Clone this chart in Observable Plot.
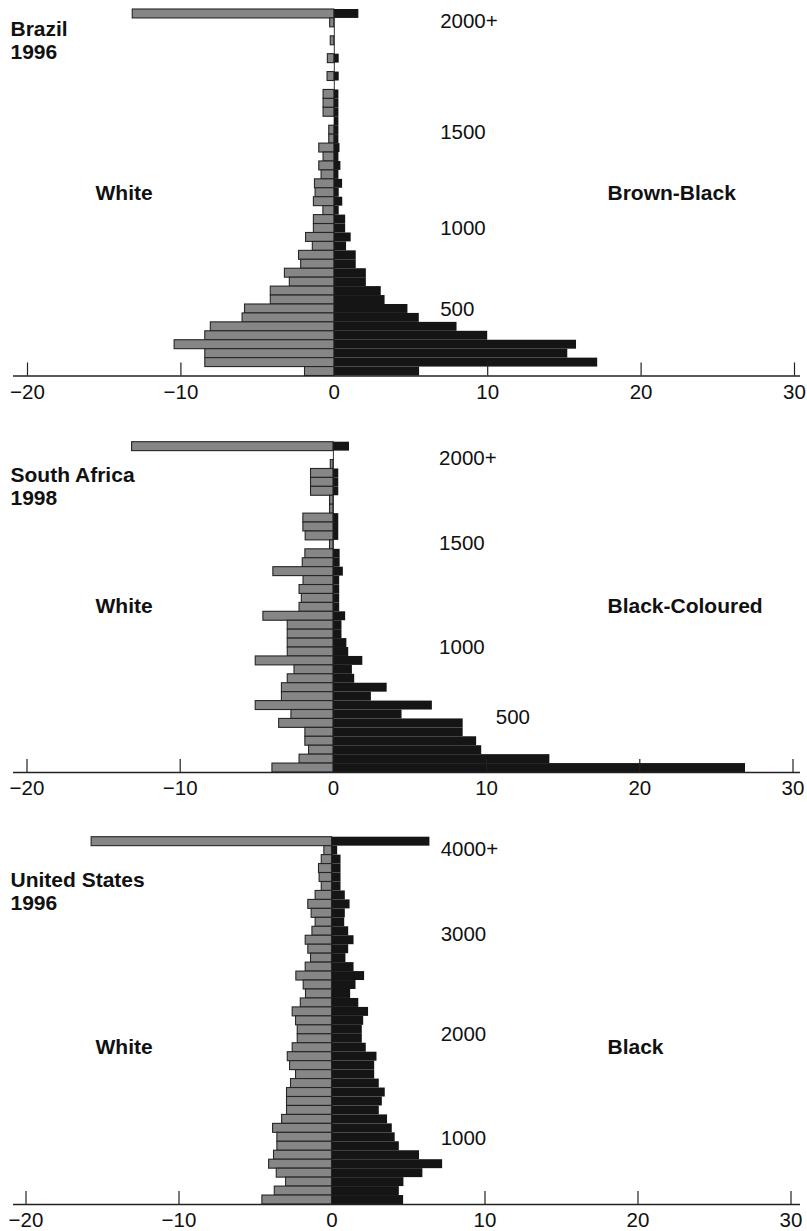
<!DOCTYPE html>
<html><head><meta charset="utf-8">
<script src="https://cdn.jsdelivr.net/npm/d3@7"></script>
<script src="https://cdn.jsdelivr.net/npm/@observablehq/plot@0.6"></script>
<style>
body{margin:0;background:#fff}
#chart{position:relative;width:807px;height:1231px;overflow:hidden}
#chart svg{position:absolute;left:0;display:block;overflow:visible}
</style></head><body><div id="chart"></div>
<script>
// x axis tick values (percent share)
const xTicks = [-20, -10, 0, 10, 20, 30];

// Brazil 1996 — rows listed from top (highest income, "2000+") to bottom
const brazilWhite = [13.14, 0.27, 0, 0.23, 0, 0.42, 0, 0.44, 0, 0.70, 0.70, 0.70, 0, 0.33, 0.33, 0.98, 0.70, 0.98, 0.83, 1.26,
  1.22, 1.33, 0.71, 1.33, 1.33, 1.84, 1.40, 2.30, 2.16, 3.22, 2.90, 4.14, 4.14, 5.82, 5.98, 8.05, 8.41, 10.41, 8.41, 8.41, 1.91];
const brazilBlack = [1.60, 0, 0, 0, 0, 0.32, 0, 0.32, 0, 0.30, 0.30, 0.30, 0.30, 0.30, 0.30, 0.37, 0.30, 0.43, 0.30, 0.54,
  0.32, 0.55, 0.32, 0.74, 0.74, 1.10, 0.80, 1.43, 1.43, 2.09, 2.09, 3.06, 3.31, 4.80, 5.54, 8.00, 10.0, 15.79, 15.22, 17.17, 5.56];
const brazilIncomeLabels = ["2000+", "1500", "1000", "500"];
const brazilIncomeRow = [39.7, 27.2, 16.5, 7.5];
const brazilIncomeShare = [6.9, 6.9, 6.9, 6.9];

// South Africa 1998
const saWhite = [13.14, 0, 0.17, 1.46, 1.46, 1.46, 0.22, 0.22, 1.96, 1.96, 1.81, 0.22, 1.83, 2.0, 3.92, 1.95, 2.21, 2.06, 2.21,
  4.57, 2.98, 2.98, 2.98, 2.98, 5.07, 2.54, 2.98, 3.36, 3.36, 5.07, 2.74, 3.54, 1.83, 1.83, 1.59, 2.21, 3.98];
const saBlack = [1.05, 0, 0, 0.35, 0.35, 0.35, 0, 0, 0.35, 0.35, 0.35, 0, 0.44, 0.44, 0.65, 0.41, 0.41, 0.41, 0.41,
  0.80, 0.56, 0.56, 0.88, 1.0, 1.92, 1.24, 1.39, 3.51, 2.48, 6.46, 4.48, 8.47, 8.47, 9.35, 9.68, 14.13, 26.9];
const saIncomeLabels = ["2000+", "1500", "1000", "500"];
const saIncomeRow = [35.2, 25.7, 14.0, 6.2];
const saIncomeShare = [6.9, 6.9, 6.9, 10.6];

// United States 1996
const usWhite = [15.71, 0.50, 0.67, 0.85, 0.81, 0.67, 1.07, 1.55, 1.33, 1.07, 1.28, 1.72, 1.55, 1.37, 1.72, 2.33, 1.85, 1.70, 2.04,
  2.57, 2.35, 2.24, 2.24, 2.57, 2.89, 2.74, 2.35, 2.68, 2.94, 2.94, 2.94, 3.26, 3.85, 3.57, 3.57, 3.79, 4.11, 3.61, 3.00, 3.74, 4.55];
const usBlack = [6.40, 0.37, 0.59, 0.59, 0.59, 0.59, 0.87, 1.18, 0.87, 0.83, 1.09, 1.44, 1.09, 0.91, 1.44, 2.13, 1.57, 1.22, 1.75,
  2.39, 2.07, 1.98, 1.98, 2.24, 2.94, 2.79, 2.79, 3.09, 3.48, 3.29, 3.09, 3.63, 3.94, 4.13, 4.40, 5.72, 7.23, 5.94, 4.70, 4.40, 4.68];
const usIncomeLabels = ["4000+", "3000", "2000", "1000"];
const usIncomeRow = [39.6, 30.1, 19.0, 7.4];
const usIncomeShare = [7.1, 7.1, 7.1, 7.1];

const titles = ["Brazil\n1996", "South Africa\n1998", "United States\n1996"];
const leftLabels = ["White", "White", "White"];
const rightLabels = ["Brown-Black", "Black-Coloured", "Black"];

const panels = [
  {white: brazilWhite, black: brazilBlack, labels: brazilIncomeLabels, labelRow: brazilIncomeRow, labelShare: brazilIncomeShare,
   title: titles[0], left: leftLabels[0], right: rightLabels[0], top: 0, height: 405, mt: 9, mb: 29.5, ml: 27, mr: 13,
   titleRow: 37.6, sideRow: 20.4},
  {white: saWhite, black: saBlack, labels: saIncomeLabels, labelRow: saIncomeRow, labelShare: saIncomeShare,
   title: titles[1], left: leftLabels[1], right: rightLabels[1], top: 405, height: 400, mt: 36.7, mb: 33, ml: 26.5, mr: 14.5,
   titleRow: 32.1, sideRow: 18.6},
  {white: usWhite, black: usBlack, labels: usIncomeLabels, labelRow: usIncomeRow, labelShare: usIncomeShare,
   title: titles[2], left: leftLabels[2], right: rightLabels[2], top: 805, height: 426, mt: 31.7, mb: 27, ml: 25.5, mr: 16.5,
   titleRow: 35.0, sideRow: 17.6}
];

const chart = document.getElementById("chart");

for (const p of panels) {
  const n = p.white.length;
  const rows = p.white.map((w, k) => ({y1: n - 1 - k, y2: n - k, white: -w, black: p.black[k]}));
  const pxPerUnit = (807 - p.ml - p.mr) / 50;
  const xAt = px => -20 + (px - p.ml) / pxPerUnit;
  const labels = p.labels.map((t, i) => ({t, y: p.labelRow[i], x: p.labelShare[i]}));
  const svg = Plot.plot({
    width: 807,
    height: p.height,
    marginTop: p.mt,
    marginBottom: p.mb,
    marginLeft: p.ml,
    marginRight: p.mr,
    x: {domain: [-20, 30]},
    y: {domain: [0, n], axis: null},
    style: {fontFamily: "'Liberation Sans', Arial, Helvetica, sans-serif", fontSize: "20.5px", color: "#111", background: "#fff", overflow: "visible"},
    marks: [
      Plot.ruleX([0], {y1: 0, y2: n, stroke: "#333", strokeWidth: 1}),
      Plot.rectX(rows.filter(d => d.black > 0), {x1: 0, x2: "black", y1: "y1", y2: "y2", fill: "#151515"}),
      Plot.rectX(rows.filter(d => d.white < 0), {x1: 0, x2: "white", y1: "y1", y2: "y2", fill: "#868686", stroke: "#262626", strokeWidth: 1.1}),
      Plot.ruleY([0], {x1: xAt(13), x2: xAt(800), stroke: "#222", strokeWidth: 1.3}),
      Plot.ruleX(xTicks.filter(t => t !== 0), {y1: 0, y2: 13 / ((p.height - p.mt - p.mb) / n), stroke: "#222", strokeWidth: 1.2}),
      Plot.axisX(xTicks, {tickSize: 0, tickPadding: 8, fontSize: 20.5, fill: "#111"}),
      Plot.text(labels, {x: "x", y: "y", text: "t", textAnchor: "start", fontSize: 20.5, fill: "#111"}),
      Plot.text([p.title], {x: xAt(10), y: p.titleRow, text: d => d, textAnchor: "start", fontWeight: "bold", fontSize: 21, lineHeight: 1.13, fill: "#111"}),
      Plot.text([p.left], {x: xAt(95), y: p.sideRow, text: d => d, textAnchor: "start", fontWeight: "bold", fontSize: 21, fill: "#111"}),
      Plot.text([p.right], {x: xAt(607), y: p.sideRow, text: d => d, textAnchor: "start", fontWeight: "bold", fontSize: 21, fill: "#111"})
    ]
  });
  svg.style.top = p.top + "px";
  chart.appendChild(svg);
}
</script>
</body></html>
